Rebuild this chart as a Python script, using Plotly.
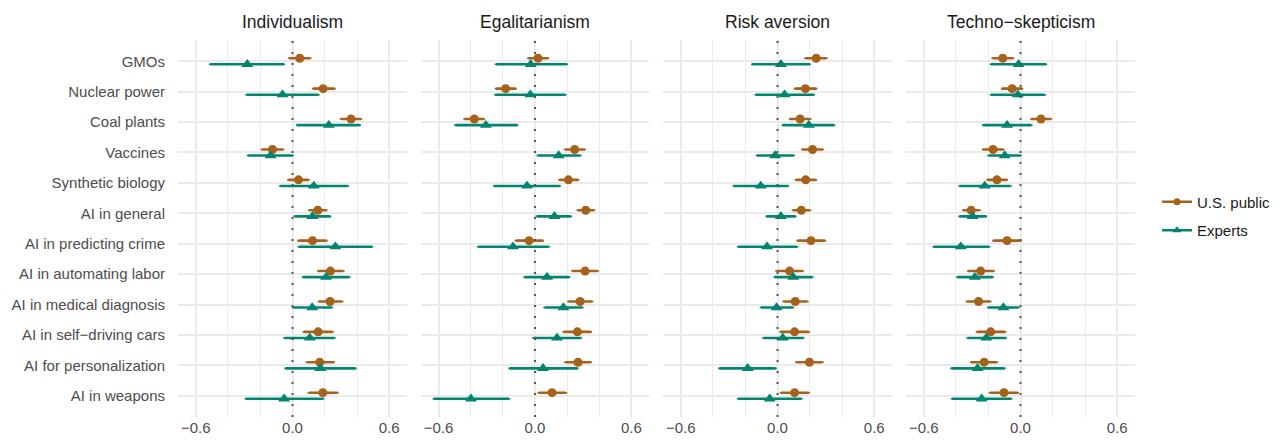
import plotly.graph_objects as go
from plotly.subplots import make_subplots

categories = ["GMOs", "Nuclear power", "Coal plants", "Vaccines", "Synthetic biology",
              "AI in general", "AI in predicting crime", "AI in automating labor",
              "AI in medical diagnosis", "AI in self\u2212driving cars",
              "AI for personalization", "AI in weapons"]
panels = ["Individualism", "Egalitarianism", "Risk aversion", "Techno\u2212skepticism"]
groups = ["U.S. public", "Experts"]
x_ticks = [-0.6, 0.0, 0.6]

# Individualism
ind_pub    = [0.045, 0.19, 0.363, -0.124, 0.037, 0.157, 0.124, 0.235, 0.233, 0.159, 0.169, 0.188]
ind_pub_lo = [-0.02, 0.128, 0.30, -0.19, -0.025, 0.103, 0.037, 0.159, 0.163, 0.07, 0.089, 0.101]
ind_pub_hi = [0.11, 0.26, 0.425, -0.058, 0.099, 0.21, 0.21, 0.316, 0.308, 0.248, 0.256, 0.279]
ind_exp    = [-0.28, -0.062, 0.225, -0.136, 0.132, 0.124, 0.266, 0.208, 0.122, 0.107, 0.173, -0.052]
ind_exp_lo = [-0.51, -0.285, 0.029, -0.275, -0.076, 0.014, 0.039, 0.066, 0.004, -0.05, -0.043, -0.289]
ind_exp_hi = [-0.054, 0.161, 0.417, 0.0, 0.343, 0.233, 0.493, 0.351, 0.244, 0.26, 0.39, 0.19]

# Egalitarianism
ega_pub    = [0.019, -0.183, -0.378, 0.247, 0.208, 0.316, -0.037, 0.312, 0.281, 0.264, 0.268, 0.106]
ega_pub_lo = [-0.042, -0.243, -0.439, 0.187, 0.152, 0.266, -0.119, 0.233, 0.208, 0.179, 0.189, 0.023]
ega_pub_hi = [0.081, -0.121, -0.318, 0.31, 0.268, 0.368, 0.048, 0.391, 0.356, 0.347, 0.347, 0.193]
ega_exp    = [-0.027, -0.029, -0.306, 0.148, -0.05, 0.121, -0.137, 0.075, 0.177, 0.137, 0.05, -0.399]
ega_exp_lo = [-0.243, -0.247, -0.495, 0.017, -0.254, 0.012, -0.353, -0.064, 0.06, -0.01, -0.158, -0.63]
ega_exp_hi = [0.198, 0.189, -0.112, 0.283, 0.154, 0.222, 0.085, 0.212, 0.295, 0.285, 0.264, -0.162]

# Risk aversion
ris_pub    = [0.24, 0.173, 0.14, 0.217, 0.175, 0.148, 0.208, 0.075, 0.11, 0.106, 0.198, 0.106]
ris_pub_lo = [0.173, 0.108, 0.077, 0.154, 0.115, 0.096, 0.125, -0.006, 0.0375, 0.019, 0.117, 0.021]
ris_pub_hi = [0.304, 0.24, 0.204, 0.281, 0.2375, 0.202, 0.294, 0.156, 0.185, 0.194, 0.279, 0.194]
ris_exp    = [0.021, 0.044, 0.194, -0.015, -0.104, 0.021, -0.065, 0.098, -0.006, 0.033, -0.185, -0.048]
ris_exp_lo = [-0.156, -0.135, 0.033, -0.127, -0.271, -0.067, -0.244, -0.017, -0.102, -0.0875, -0.36, -0.244]
ris_exp_hi = [0.2, 0.225, 0.35, 0.1, 0.065, 0.11, 0.121, 0.215, 0.096, 0.16, -0.0125, 0.148]

# Techno-skepticism
tec_pub    = [-0.11, -0.052, 0.127, -0.17, -0.146, -0.306, -0.083, -0.247, -0.26, -0.185, -0.225, -0.102]
tec_pub_lo = [-0.173, -0.114, 0.067, -0.233, -0.204, -0.356, -0.168, -0.324, -0.333, -0.27, -0.306, -0.189]
tec_pub_hi = [-0.046, 0.01, 0.189, -0.106, -0.085, -0.254, 0.0, -0.166, -0.187, -0.096, -0.146, -0.017]
tec_exp    = [-0.012, -0.017, -0.083, -0.098, -0.222, -0.297, -0.37, -0.283, -0.106, -0.212, -0.266, -0.241]
tec_exp_lo = [-0.183, -0.183, -0.231, -0.198, -0.378, -0.378, -0.538, -0.391, -0.2, -0.328, -0.428, -0.424]
tec_exp_hi = [0.158, 0.15, 0.067, 0.0, -0.062, -0.214, -0.195, -0.173, -0.012, -0.091, -0.1, -0.058]

panel_data = [
    (ind_pub, ind_pub_lo, ind_pub_hi, ind_exp, ind_exp_lo, ind_exp_hi),
    (ega_pub, ega_pub_lo, ega_pub_hi, ega_exp, ega_exp_lo, ega_exp_hi),
    (ris_pub, ris_pub_lo, ris_pub_hi, ris_exp, ris_exp_lo, ris_exp_hi),
    (tec_pub, tec_pub_lo, tec_pub_hi, tec_exp, tec_exp_lo, tec_exp_hi),
]

ORANGE = "#A6611A"
GREEN = "#018571"
FONT = "Liberation Sans, Arial, sans-serif"
OFF = 8  # page body margin
W, H = 1283 - 2 * OFF, 445 - 2 * OFF

n = len(categories)
ypos = [n - i for i in range(n)]  # GMOs at top
dodge = 0.1

fig = make_subplots(rows=1, cols=4, shared_yaxes=True)

for p, (pm, pl, ph, em, el, eh) in enumerate(panel_data):
    col = p + 1
    specs = [
        (pm, pl, ph, ORANGE, "circle", 9, dodge),
        (em, el, eh, GREEN, "triangle-up", 10.5, -dodge),
    ]
    for m, lo, hi, color, sym, size, dy in specs:
        fig.add_trace(go.Scatter(
            x=m, y=[y + dy for y in ypos], mode="markers",
            marker=dict(color=color, symbol=sym, size=size),
            error_x=dict(type="data", symmetric=False,
                         array=[h - v for h, v in zip(hi, m)],
                         arrayminus=[v - l for v, l in zip(m, lo)],
                         color=color, thickness=2.6, width=0.8),
            showlegend=False, hoverinfo="skip"), row=1, col=col)

# legend entries
for name, color, sym, size in [(groups[0], ORANGE, "circle", 7), (groups[1], GREEN, "triangle-up", 8)]:
    fig.add_trace(go.Scatter(x=[None], y=[None], mode="lines+markers", name=name,
                             legendgroup=name,
                             line=dict(color=color, width=2.5),
                             marker=dict(color=color, symbol=sym, size=size)), row=1, col=1)

# panel pixel extents in the screenshot
domains = [(178, 407), (421, 649), (663, 892), (906, 1135)]
for i, (a, b) in enumerate(domains):
    a, b = a - OFF, b - OFF
    ax = "xaxis" if i == 0 else f"xaxis{i+1}"
    fig.layout[ax].update(
        domain=[a / W, b / W], range=[-0.71, 0.71],
        tickmode="array", tickvals=x_ticks, ticktext=[f"{v:.1f}".replace("-", "\u2212") for v in x_ticks],
        showgrid=True, gridcolor="#EBEBEB", gridwidth=1.8, zeroline=False, showline=False,
        ticks="", tickfont=dict(family=FONT, size=15, color="#4D4D4D"),
        minor=dict(tickmode="array", tickvals=[-0.4, -0.2, 0.2, 0.4], showgrid=True,
                   gridcolor="#EBEBEB", gridwidth=1.3),
        fixedrange=True)
    fig.add_shape(type="line", xref=ax.replace("axis", ""), yref="paper", x0=0, x1=0, y0=0, y1=1,
                  line=dict(color="#555555", width=2, dash="2px,9px"), layer="above")
    fig.add_annotation(x=(a + b) / 2 / W, y=1, xref="paper", yref="paper",
                       xanchor="center", yanchor="bottom",
                       yshift=6, text=panels[i], showarrow=False,
                       font=dict(family=FONT, size=17.5, color="#1A1A1A"))

fig.update_yaxes(range=[0.3, n + 0.7], tickmode="array", tickvals=ypos, ticktext=categories,
                 showgrid=True, gridcolor="#EBEBEB", gridwidth=1.8, zeroline=False,
                 showline=False, ticks="", fixedrange=True,
                 tickfont=dict(family=FONT, size=15, color="#4D4D4D"))
fig.layout.yaxis.update(ticklabelstandoff=12)

top = 40 - OFF
bottom = H - (417 - OFF)
fig.update_layout(
    width=W, height=H,
    margin=dict(l=0, r=0, t=top, b=bottom, autoexpand=False),
    paper_bgcolor="white", plot_bgcolor="white",
    font=dict(family=FONT, size=15, color="#1A1A1A"),
    legend=dict(x=(1157 - OFF) / W, y=(417 - 216) / 377, xanchor="left", yanchor="middle",
                font=dict(family=FONT, size=15, color="#1A1A1A"),
                itemwidth=30, tracegroupgap=6, bgcolor="rgba(0,0,0,0)"),
    showlegend=True,
)

fig.write_html("out.html")
